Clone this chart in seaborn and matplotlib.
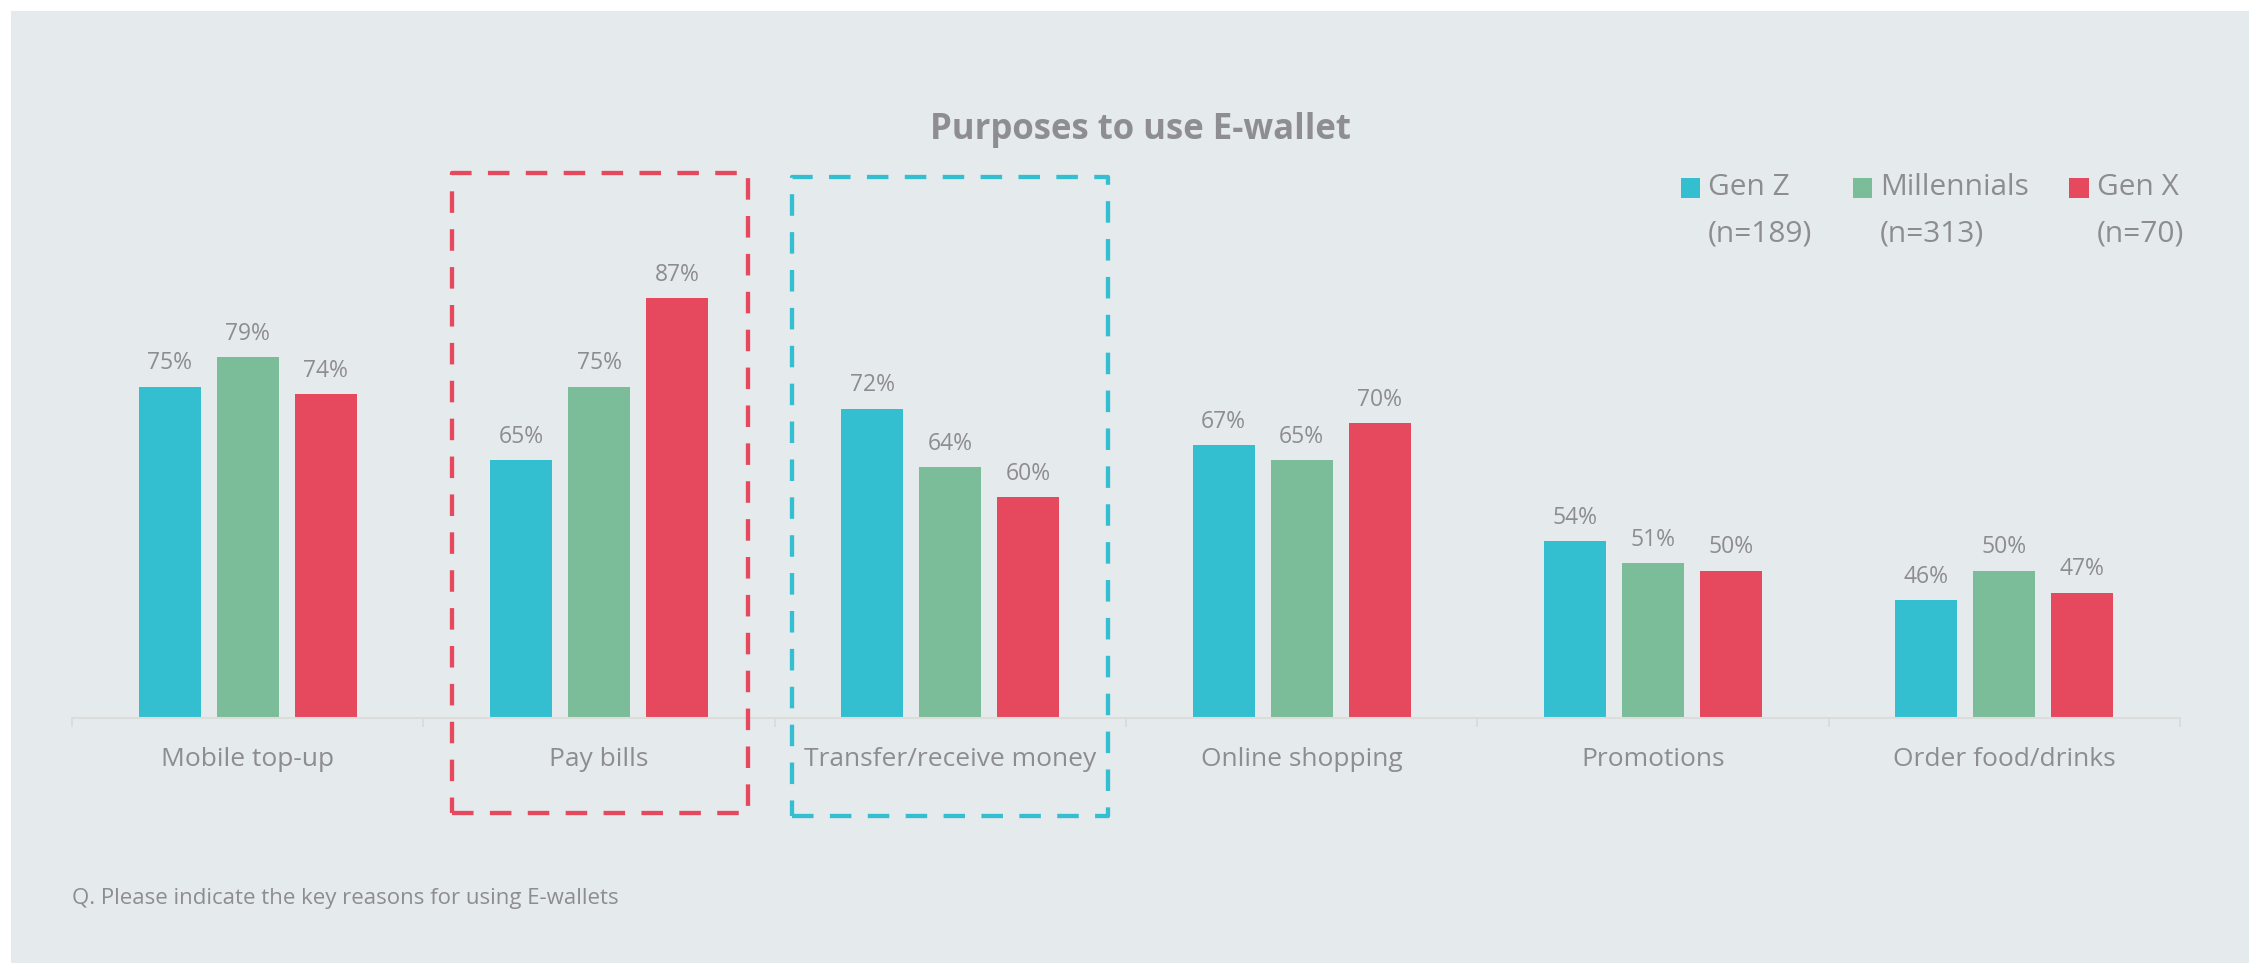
import numpy as np
import pandas as pd
import matplotlib
matplotlib.use("Agg")
import matplotlib.pyplot as plt
import seaborn as sns
from matplotlib.patches import Rectangle, Patch
from matplotlib.legend_handler import HandlerPatch

# ---- data -------------------------------------------------------------
purposes = ["Mobile top-up", "Pay bills", "Transfer/receive money",
            "Online shopping", "Promotions", "Order food/drinks"]
generations = ["Gen Z", "Millennials", "Gen X"]
sample_sizes = [189, 313, 70]
gen_z = [75, 65, 72, 67, 54, 46]
millennials = [79, 75, 64, 65, 51, 50]
gen_x = [74, 87, 60, 70, 50, 47]

# ---- style ------------------------------------------------------------
colors = ["#33BFD0", "#7ABD98", "#E6485E"]
BG = "#E5EAED"
GREY = "#8D8D90"
AXIS_GREY = "#DCDCDA"

df = pd.DataFrame({
    "purpose": purposes * 3,
    "generation": np.repeat(generations, len(purposes)),
    "share": gen_z + millennials + gen_x,
})

sns.set_theme(style="white")
plt.rcParams["font.family"] = ["Open Sans", "DejaVu Sans"]

W, H = 2249, 963
fig = plt.figure(figsize=(W / 100, H / 100), dpi=100, facecolor="white")
fig.patches.append(Rectangle((11 / W, 0), 1 - 11 / W, 1 - 11 / H,
                             transform=fig.transFigure, facecolor=BG,
                             edgecolor="none", zorder=-10))

ax = fig.add_axes([72 / W, 1 - 717.7 / H, (2180 - 72) / W, 515.2 / H])
ax.set_facecolor("none")

sns.barplot(data=df, x="purpose", y="share", hue="generation",
            order=purposes, hue_order=generations, palette=colors,
            width=0.666, gap=0.207, saturation=1, legend=False,
            linewidth=0, edgecolor="none", ax=ax)

ax.set_ylim(30, 100)
ax.set_xlim(-0.5, len(purposes) - 0.5)
ax.set_xlabel("")
ax.set_ylabel("")
ax.set_yticks([])

for cont in ax.containers:
    ax.bar_label(cont, labels=[f"{v:g}%" for v in cont.datavalues],
                 padding=8, fontsize=16.5, color=GREY)

# axis line with separators between categories
sns.despine(ax=ax, left=True)
ax.spines["bottom"].set_color(AXIS_GREY)
ax.spines["bottom"].set_linewidth(1.5)
ax.set_xticks(np.arange(-0.5, len(purposes), 1), minor=True)
ax.tick_params(axis="x", which="major", length=0, pad=21,
               labelsize=19, labelcolor=GREY)
ax.tick_params(axis="x", which="minor", bottom=True, length=6.5,
               width=1.4, color=AXIS_GREY, direction="out")

# dashed highlight frames around two categories
highlights = [("Pay bills", colors[2], -0.417, 0.423, 17.05, 104.0),
              ("Transfer/receive money", colors[0], -0.452, 0.45, 16.6, 103.5)]
for name, col, dx0, dx1, y0, y1 in highlights:
    i = purposes.index(name)
    ax.add_patch(Rectangle((i + dx0, y0), dx1 - dx0, y1 - y0, fill=False,
                           edgecolor=col, linewidth=3.1,
                           linestyle=(0, (5, 3.8)), joinstyle="round",
                           clip_on=False, zorder=5))

# legend: square marker level with the first line of a two-line label
LEG_FS = 21.5
LEG_LS = 1.8
LEG_SHIFT = 0.5 * (1.0 + 0.76 * LEG_LS) - 0.38


def square_top(legend, orig_handle, xdescent, ydescent, width, height, fontsize):
    return Rectangle((-xdescent, LEG_SHIFT * fontsize), width, width)


handles = [Patch(facecolor=c, edgecolor="none") for c in colors]
labels = [f"{g}\n(n={n})" for g, n in zip(generations, sample_sizes)]
leg = fig.legend(handles, labels, loc="upper left",
                 bbox_to_anchor=(1680.6 / W, 1 - 172.8 / H), ncol=3,
                 frameon=False, fontsize=LEG_FS, handlelength=0.66,
                 handleheight=0.66, handletextpad=0.26, columnspacing=1.35,
                 borderpad=0, borderaxespad=0, labelcolor=GREY,
                 handler_map={Patch: HandlerPatch(patch_func=square_top)})
for t in leg.get_texts():
    t.set_linespacing(LEG_LS)

fig.text(1140 / W, 1 - 139.3 / H, "Purposes to use E-wallet", ha="center",
         va="baseline", fontsize=25, fontweight="bold", color="#8E8E92")
fig.text(72 / W, 1 - 904 / H,
         "Q. Please indicate the key reasons for using E-wallets",
         ha="left", va="baseline", fontsize=16, color=GREY)

fig.savefig("out.png", dpi=100, facecolor="white")
